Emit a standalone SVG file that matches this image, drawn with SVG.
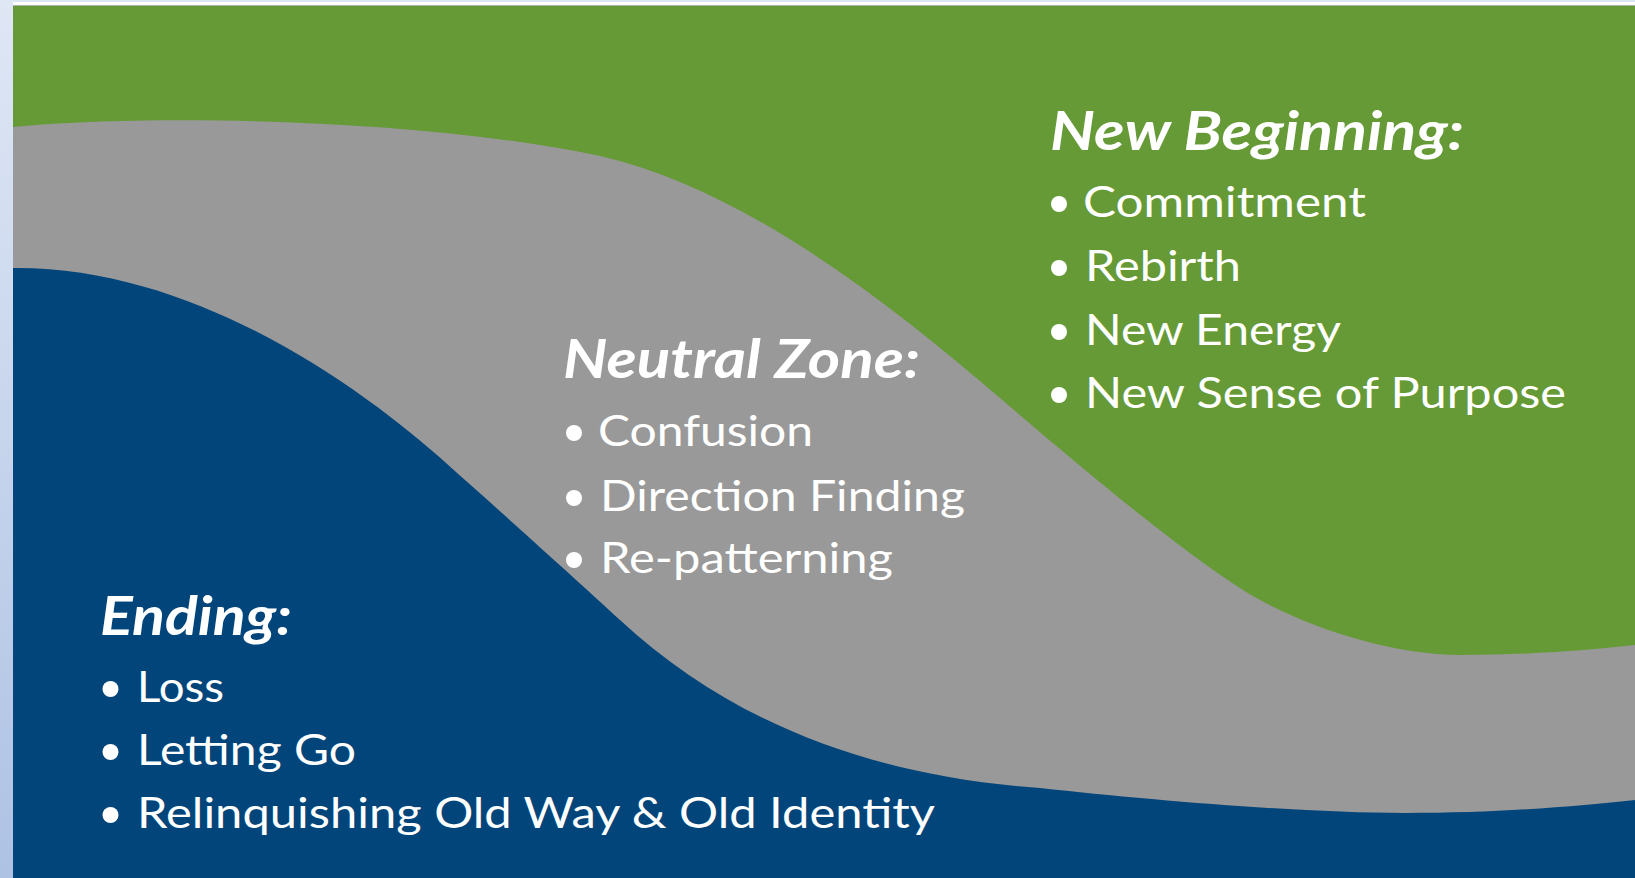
<svg xmlns="http://www.w3.org/2000/svg" width="1635" height="878" viewBox="0 0 1635 878">
  <defs>
    <linearGradient id="sideBar" x1="0" y1="0" x2="0" y2="1">
      <stop offset="0" stop-color="#dfe7f5"/>
      <stop offset="1" stop-color="#aec2e4"/>
    </linearGradient>
    <style>
      .head { font-family: Lato, "Open Sans", sans-serif; font-weight: 700; font-style: italic; font-size: 53px; fill: #ffffff; }
      .item { font-family: Lato, "Open Sans", sans-serif; font-weight: 400; font-size: 43px; fill: #ffffff; }
      .bullet { fill: #ffffff; }
    </style>
  </defs>

  <!-- frame: top rule and left side bar -->
  <rect x="0" y="0" width="1635" height="878" fill="#ffffff"/>
  <rect x="0" y="0" width="1635" height="2" fill="#dce6f2"/>
  <rect x="0" y="5" width="1635" height="1.5" fill="#a9b3a4"/>
  <rect x="0" y="0" width="13" height="878" fill="url(#sideBar)"/>

  <!-- three bands of the transition curve -->
  <g id="bands">
    <rect id="band-new-beginning" x="13" y="6" width="1622" height="872" fill="#669a36"/>
    <path id="band-neutral-zone" fill="#999999"
          d="M13,127 C150,114 420,118 600,156 C740,188 880,295 1000,398 C1080,467 1180,550 1243,590 C1300,626 1390,655 1460,655 C1530,655 1590,650 1635,645 L1635,878 L13,878 Z"/>
    <path id="band-ending" fill="#02457b"
          d="M13,268 C200,266 370,395 446,463 C491,503 580,583 620,620 C730,722 870,776 1040,788 C1150,800 1300,813 1405,813 C1500,813 1580,806 1635,800 L1635,878 L13,878 Z"/>
  </g>

  <!-- New Beginning -->
  <g id="node-new-beginning">
    <text class="head" x="1050" y="150" textLength="414" lengthAdjust="spacingAndGlyphs">New Beginning:</text>
    <circle class="bullet" cx="1059" cy="204" r="8"/>
    <text class="item" x="1083" y="217" textLength="283" lengthAdjust="spacingAndGlyphs">Commitment</text>
    <circle class="bullet" cx="1059" cy="268" r="8"/>
    <text class="item" x="1085" y="281" textLength="156" lengthAdjust="spacingAndGlyphs">Rebirth</text>
    <circle class="bullet" cx="1059" cy="332" r="8"/>
    <text class="item" x="1085" y="345" textLength="256" lengthAdjust="spacingAndGlyphs">New Energy</text>
    <circle class="bullet" cx="1059" cy="395" r="8"/>
    <text class="item" x="1085" y="408" textLength="481" lengthAdjust="spacingAndGlyphs">New Sense of Purpose</text>
  </g>

  <!-- Neutral Zone -->
  <g id="node-neutral-zone">
    <text class="head" x="563" y="378" textLength="357" lengthAdjust="spacingAndGlyphs">Neutral Zone:</text>
    <circle class="bullet" cx="574" cy="433" r="8"/>
    <text class="item" x="598" y="446" textLength="215" lengthAdjust="spacingAndGlyphs">Confusion</text>
    <circle class="bullet" cx="574" cy="498" r="8"/>
    <text class="item" x="600" y="511" textLength="365" lengthAdjust="spacingAndGlyphs">Direction Finding</text>
    <circle class="bullet" cx="574" cy="560" r="8"/>
    <text class="item" x="600" y="573" textLength="293" lengthAdjust="spacingAndGlyphs">Re-patterning</text>
  </g>

  <!-- Ending -->
  <g id="node-ending">
    <text class="head" x="100" y="635" textLength="192" lengthAdjust="spacingAndGlyphs">Ending:</text>
    <circle class="bullet" cx="110.5" cy="689" r="8"/>
    <text class="item" x="137" y="702" textLength="87" lengthAdjust="spacingAndGlyphs">Loss</text>
    <circle class="bullet" cx="110.5" cy="752" r="8"/>
    <text class="item" x="137" y="765" textLength="219" lengthAdjust="spacingAndGlyphs">Letting Go</text>
    <circle class="bullet" cx="110.5" cy="815" r="8"/>
    <text class="item" x="137" y="828" textLength="798" lengthAdjust="spacingAndGlyphs">Relinquishing Old Way &amp; Old Identity</text>
  </g>

  <!-- no connectors in this figure -->
  <g id="connectors"/>
</svg>
